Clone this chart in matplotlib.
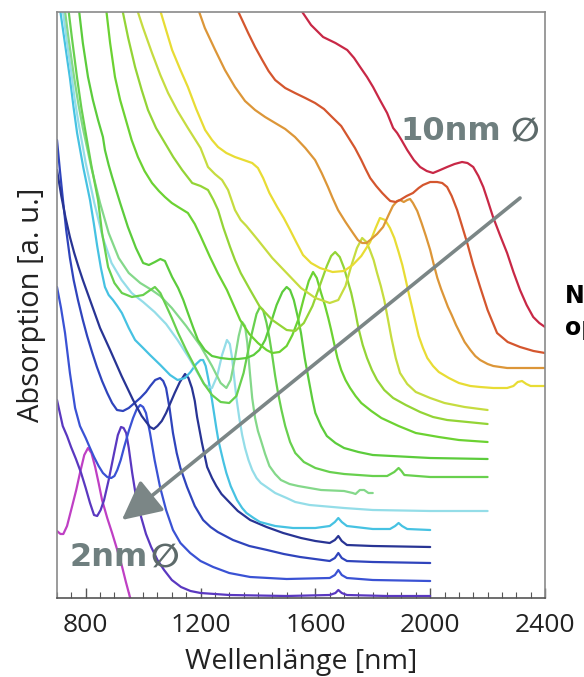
import matplotlib
matplotlib.use("Agg")
import matplotlib.pyplot as plt
from matplotlib.ticker import MultipleLocator

# ---------------- data (wavelength in nm, absorption in a.u.) ----------------
wl_c1 = [700, 712, 722, 735, 752, 767, 780, 795, 808, 820, 833, 845, 857, 875, 892, 910, 927, 940, 954, 990]
ab_c1 = [67, 64, 64, 72, 91, 108, 125, 143, 150, 145, 131, 115, 98, 80, 65, 48, 31, 16, 1, -25]

wl_c2 = [700, 720, 735, 749, 766, 784, 800, 815, 829, 840, 852, 864, 880, 899, 912, 923, 932, 941, 950, 962, 976, 993, 1010, 1028, 1050, 1073, 1100, 1132, 1165, 1200, 1300, 1500, 1650, 1670, 1680, 1692, 1710, 1850, 2000]
ab_c2 = [198, 172, 162, 151, 139, 125, 110, 95, 83, 82, 88, 98, 118, 145, 163, 171, 170, 165, 150, 125, 100, 81, 64, 51, 38, 28, 18, 11, 7, 5, 3, 2, 3, 5, 8, 5, 3, 2, 2]

wl_c3 = [700, 714, 728, 745, 763, 780, 800, 815, 829, 845, 860, 875, 889, 900, 910, 922, 934, 950, 965, 978, 990, 1000, 1010, 1024, 1040, 1059, 1080, 1104, 1130, 1164, 1200, 1244, 1300, 1373, 1500, 1650, 1668, 1680, 1692, 1710, 1800, 2000]
ab_c3 = [311, 290, 265, 225, 190, 172, 160, 150, 141, 132, 125, 121, 120, 122, 128, 138, 151, 167, 180, 189, 193, 191, 185, 165, 138, 111, 88, 68, 55, 45, 37, 31, 25, 21, 19, 20, 23, 28, 23, 20, 18, 17]

wl_c4 = [700, 710, 720, 732, 745, 758, 773, 790, 805, 822, 839, 857, 875, 892, 909, 930, 950, 970, 990, 1010, 1025, 1042, 1059, 1070, 1080, 1092, 1104, 1117, 1130, 1153, 1180, 1209, 1235, 1260, 1313, 1370, 1432, 1490, 1547, 1650, 1668, 1680, 1692, 1710, 1800, 2000]
ab_c4 = [458, 428, 400, 368, 340, 318, 298, 278, 262, 246, 231, 217, 205, 195, 188, 187, 190, 195, 200, 206, 212, 218, 220, 217, 210, 190, 165, 145, 130, 111, 92, 78, 71, 66, 58, 52, 48, 44, 41, 37, 40, 45, 40, 37, 36, 35]

wl_c5 = [700, 715, 730, 745, 760, 775, 790, 815, 850, 885, 925, 965, 995, 1024, 1037, 1050, 1065, 1080, 1095, 1110, 1128, 1146, 1158, 1170, 1180, 1188, 1205, 1223, 1240, 1255, 1273, 1293, 1330, 1373, 1430, 1488, 1550, 1600, 1650, 1668, 1680, 1692, 1710, 1800, 2000]
ab_c5 = [428, 402, 380, 361, 345, 331, 318, 298, 270, 248, 222, 198, 182, 171, 169, 172, 177, 185, 195, 205, 216, 224, 220, 210, 197, 181, 155, 131, 120, 112, 104, 98, 87, 78, 71, 65, 60, 57, 55, 58, 62, 57, 53, 52, 51]

wl_c6 = [705, 725, 745, 758, 770, 792, 815, 828, 840, 853, 867, 880, 895, 910, 926, 950, 972, 1000, 1024, 1060, 1094, 1120, 1146, 1165, 1185, 1200, 1209, 1218, 1225, 1233, 1240, 1248, 1255, 1262, 1270, 1280, 1290, 1305, 1327, 1345, 1360, 1385, 1407, 1460, 1522, 1600, 1650, 1668, 1680, 1692, 1710, 1800, 1860, 1878, 1890, 1902, 1920, 2000]
ab_c6 = [600, 560, 520, 490, 465, 430, 398, 375, 352, 330, 311, 303, 298, 292, 285, 270, 258, 250, 243, 233, 223, 218, 220, 226, 234, 238, 238, 232, 222, 210, 198, 183, 170, 158, 148, 136, 125, 112, 98, 90, 85, 80, 76, 72, 70, 70, 72, 76, 80, 76, 72, 69, 69, 72, 75, 72, 69, 68]

wl_c7 = [715, 735, 750, 762, 775, 800, 830, 860, 890, 925, 960, 1000, 1040, 1080, 1120, 1160, 1190, 1215, 1240, 1258, 1275, 1292, 1302, 1310, 1318, 1326, 1335, 1345, 1355, 1367, 1380, 1395, 1410, 1435, 1460, 1500, 1530, 1580, 1620, 1700, 1800, 2000, 2200]
ab_c7 = [600, 555, 525, 498, 475, 435, 395, 360, 335, 318, 305, 296, 286, 274, 258, 240, 225, 213, 210, 222, 243, 258, 254, 240, 218, 198, 180, 163, 150, 138, 128, 120, 115, 110, 105, 100, 96, 93, 92, 90, 88, 87, 87]

wl_c8 = [722, 740, 760, 775, 790, 820, 850, 880, 915, 950, 990, 1030, 1060, 1100, 1150, 1200, 1240, 1270, 1290, 1305, 1320, 1333, 1345, 1355, 1363, 1372, 1380, 1390, 1400, 1410, 1425, 1440, 1460, 1480, 1510, 1540, 1620, 1700, 1730, 1740, 1755, 1770, 1785, 1800]
ab_c8 = [600, 560, 520, 493, 470, 430, 395, 365, 340, 325, 315, 308, 302, 290, 272, 252, 232, 215, 210, 218, 240, 262, 276, 272, 255, 225, 200, 180, 167, 158, 144, 132, 124, 118, 114, 112, 108, 107, 105, 104, 108, 108, 105, 105]

wl_c9 = [735, 752, 770, 785, 800, 820, 843, 857, 878, 900, 926, 961, 1000, 1020, 1041, 1060, 1076, 1100, 1122, 1150, 1181, 1210, 1240, 1270, 1300, 1325, 1350, 1375, 1395, 1407, 1418, 1430, 1440, 1450, 1460, 1470, 1482, 1495, 1512, 1530, 1560, 1600, 1650, 1700, 1800, 1850, 1875, 1890, 1900, 1910, 2000, 2200]
ab_c9 = [600, 560, 520, 490, 465, 432, 398, 365, 331, 315, 305, 301, 303, 307, 311, 305, 295, 280, 265, 248, 231, 215, 203, 196, 195, 202, 225, 260, 284, 291, 288, 275, 260, 242, 222, 205, 188, 172, 156, 145, 136, 130, 126, 124, 122, 122, 126, 130, 127, 123, 121, 121]

wl_c10 = [775, 790, 808, 825, 843, 860, 867, 880, 892, 920, 947, 975, 1000, 1020, 1041, 1060, 1076, 1090, 1101, 1122, 1140, 1156, 1175, 1191, 1215, 1240, 1270, 1300, 1330, 1360, 1385, 1405, 1425, 1445, 1465, 1485, 1500, 1512, 1525, 1538, 1550, 1563, 1577, 1590, 1600, 1620, 1640, 1670, 1700, 1750, 1800, 2000, 2200]
ab_c10 = [592, 555, 521, 498, 478, 461, 448, 433, 421, 395, 371, 350, 335, 333, 336, 339, 337, 328, 321, 310, 298, 285, 270, 258, 248, 242, 240, 239, 239, 240, 243, 248, 258, 275, 293, 306, 311, 308, 298, 282, 265, 240, 218, 198, 185, 172, 162, 155, 150, 146, 143, 140, 139]

wl_c11 = [870, 885, 902, 920, 937, 960, 982, 1005, 1031, 1055, 1076, 1100, 1122, 1156, 1180, 1200, 1233, 1260, 1292, 1315, 1338, 1370, 1400, 1430, 1450, 1475, 1500, 1520, 1540, 1560, 1577, 1592, 1605, 1620, 1633, 1645, 1655, 1665, 1677, 1690, 1705, 1721, 1740, 1760, 1795, 1830, 1890, 1950, 2030, 2100, 2200]
ab_c11 = [592, 555, 521, 498, 481, 458, 441, 427, 415, 407, 401, 395, 391, 385, 374, 362, 341, 325, 308, 293, 278, 264, 255, 248, 245, 246, 252, 263, 278, 300, 317, 326, 320, 305, 293, 280, 268, 255, 240, 228, 218, 210, 202, 195, 187, 180, 172, 165, 161, 158, 156]

wl_c12 = [925, 948, 972, 995, 1017, 1045, 1076, 1105, 1136, 1171, 1200, 1226, 1245, 1261, 1280, 1303, 1320, 1340, 1373, 1407, 1450, 1500, 1530, 1560, 1590, 1615, 1640, 1655, 1669, 1685, 1700, 1712, 1725, 1738, 1750, 1765, 1780, 1797, 1815, 1840, 1871, 1915, 1965, 2010, 2059, 2130, 2200]
ab_c12 = [592, 560, 531, 508, 488, 470, 455, 441, 428, 415, 412, 408, 398, 388, 370, 351, 338, 325, 308, 291, 278, 268, 267, 275, 292, 312, 332, 342, 346, 341, 330, 318, 305, 288, 270, 253, 240, 228, 218, 208, 200, 193, 186, 181, 178, 176, 174]

wl_c13 = [975, 1000, 1031, 1060, 1087, 1120, 1156, 1200, 1226, 1250, 1275, 1296, 1320, 1340, 1360, 1400, 1450, 1500, 1550, 1600, 1650, 1680, 1705, 1725, 1745, 1763, 1778, 1790, 1803, 1815, 1828, 1840, 1852, 1865, 1880, 1895, 1920, 1950, 2000, 2050, 2120, 2200]
ab_c13 = [592, 570, 545, 523, 505, 487, 470, 450, 431, 424, 418, 408, 388, 378, 372, 358, 340, 325, 310, 300, 295, 298, 312, 332, 350, 360, 356, 348, 338, 325, 312, 298, 280, 260, 240, 225, 214, 206, 200, 195, 191, 188]

wl_c14 = [1055, 1080, 1101, 1130, 1156, 1185, 1216, 1240, 1261, 1290, 1320, 1350, 1380, 1400, 1418, 1440, 1467, 1490, 1512, 1535, 1557, 1585, 1616, 1660, 1700, 1730, 1760, 1791, 1810, 1825, 1843, 1860, 1875, 1890, 1903, 1915, 1925, 1935, 1947, 1960, 1975, 1990, 2010, 2030, 2065, 2100, 2140, 2174, 2220, 2268, 2290, 2305, 2320, 2335, 2350, 2400]
ab_c14 = [592, 568, 548, 528, 511, 489, 468, 458, 451, 445, 441, 438, 435, 430, 420, 405, 391, 380, 368, 355, 343, 335, 330, 326, 327, 333, 342, 356, 370, 380, 378, 370, 360, 346, 333, 318, 305, 293, 278, 262, 250, 240, 232, 226, 220, 215, 212, 211, 210, 210, 212, 216, 217, 214, 212, 212]

wl_c15 = [1188, 1215, 1251, 1285, 1320, 1355, 1390, 1425, 1460, 1495, 1529, 1565, 1599, 1622, 1644, 1660, 1679, 1705, 1731, 1748, 1763, 1778, 1791, 1815, 1836, 1855, 1870, 1885, 1895, 1908, 1920, 1930, 1940, 1955, 1970, 1985, 2000, 2013, 2025, 2038, 2050, 2062, 2075, 2090, 2104, 2120, 2140, 2157, 2174, 2200, 2220, 2268, 2330, 2400]
ab_c15 = [592, 570, 548, 528, 511, 497, 488, 481, 475, 469, 461, 450, 438, 425, 411, 400, 388, 376, 365, 358, 355, 355, 358, 364, 371, 383, 392, 397, 398, 396, 398, 399, 395, 387, 375, 362, 348, 333, 320, 309, 300, 291, 283, 273, 265, 256, 248, 242, 238, 234, 232, 230, 230, 230]

wl_c16 = [1322, 1345, 1366, 1390, 1415, 1437, 1460, 1495, 1529, 1565, 1599, 1630, 1658, 1690, 1714, 1738, 1760, 1775, 1791, 1812, 1833, 1850, 1861, 1880, 1895, 1918, 1940, 1960, 1975, 2000, 2024, 2042, 2059, 2075, 2094, 2110, 2129, 2150, 2174, 2200, 2233, 2270, 2313, 2360, 2400]
ab_c16 = [592, 578, 565, 551, 538, 527, 518, 510, 505, 500, 495, 489, 481, 472, 461, 450, 438, 429, 420, 412, 405, 400, 397, 396, 398, 402, 405, 410, 413, 416, 416, 415, 411, 402, 388, 373, 355, 333, 311, 288, 265, 256, 251, 247, 245]

wl_c17 = [1545, 1585, 1627, 1670, 1711, 1735, 1756, 1780, 1801, 1825, 1850, 1871, 1885, 1900, 1920, 1943, 1965, 1988, 2010, 2035, 2059, 2085, 2111, 2130, 2150, 2168, 2185, 2200, 2219, 2243, 2268, 2290, 2313, 2336, 2359, 2380, 2400]
ab_c17 = [590, 573, 561, 555, 548, 540, 531, 521, 511, 498, 485, 470, 465, 458, 448, 438, 431, 427, 425, 428, 431, 434, 436, 435, 431, 422, 411, 398, 381, 363, 345, 326, 308, 293, 281, 275, 271]

curves = [
    (wl_c1, ab_c1, "#bf3fc4"),
    (wl_c2, ab_c2, "#5a38c0"),
    (wl_c3, ab_c3, "#3a52d4"),
    (wl_c4, ab_c4, "#2f44bc"),
    (wl_c5, ab_c5, "#283494"),
    (wl_c6, ab_c6, "#46c2e2"),
    (wl_c7, ab_c7, "#94dde8"),
    (wl_c8, ab_c8, "#84d88a"),
    (wl_c9, ab_c9, "#68d04e"),
    (wl_c10, ab_c10, "#5ccc3c"),
    (wl_c11, ab_c11, "#6cd232"),
    (wl_c12, ab_c12, "#94d436"),
    (wl_c13, ab_c13, "#c6dc40"),
    (wl_c14, ab_c14, "#e8dc34"),
    (wl_c15, ab_c15, "#dc9638"),
    (wl_c16, ab_c16, "#d4562e"),
    (wl_c17, ab_c17, "#c82846"),
]

xticks = [800, 1200, 1600, 2000, 2400]

# ---------------- figure ----------------
W, H = 584, 677
fig = plt.figure(figsize=(W / 100, H / 100), dpi=100)
ax = fig.add_axes([57 / W, 1 - 598 / H, (545 - 57) / W, (598 - 12) / H])

for wl, ab, col in curves:
    ax.plot(wl, ab, color=col, lw=1.6, solid_joinstyle="round", solid_capstyle="round")

ax.set_xlim(700, 2400)
ax.set_ylim(0, 586)
ax.set_xticks(xticks)
ax.xaxis.set_minor_locator(MultipleLocator(50))
ax.set_yticks([])
ax.tick_params(axis="x", which="major", direction="in", length=7, width=1, color="#555555",
               labelsize=19, pad=11)
ax.tick_params(axis="x", which="minor", direction="in", length=4, width=0.8, color="#555555")
for lab in ax.get_xticklabels():
    lab.set_fontfamily("Open Sans")
    lab.set_color("#222222")
for s in ax.spines.values():
    s.set_color("#8a8a8a")
    s.set_linewidth(1.2)
ax.spines["bottom"].set_color("#555555")

ax.set_xlabel("Wellenlänge [nm]", fontsize=20.5, family="Open Sans", color="#222222", labelpad=7)
ax.set_ylabel("Absorption [a. u.]", fontsize=21, family="Open Sans", color="#222222", labelpad=8)

# arrow from large to small particles
ax.annotate("", xy=(926, 78), xytext=(2313, 400),
            arrowprops=dict(arrowstyle="-|>,head_length=1.1,head_width=0.55", color="#7b8686",
                            lw=2.6, mutation_scale=22, shrinkA=0, shrinkB=0))

gray = "#6f7f7f"
fig.text(400 / W, 1 - 131 / H, "10nm", fontsize=23, fontweight="bold", color=gray,
         family="DejaVu Sans", ha="left", va="center")
fig.text(510 / W, 1 - 131 / H, "∅", fontsize=24, fontweight="bold", color="#5d6a6a",
         family="DejaVu Sans", ha="left", va="center")
fig.text(70 / W, 1 - 557 / H, "2nm", fontsize=23, fontweight="bold", color=gray,
         family="DejaVu Sans", ha="left", va="center")
fig.text(150 / W, 1 - 557 / H, "∅", fontsize=24, fontweight="bold", color="#5d6a6a",
         family="DejaVu Sans", ha="left", va="center")

# partially visible text at the right edge (cut off as in the original)
fig.text(565 / W, 1 - 296 / H, "N", fontsize=17, fontweight="bold", color="black",
         family="DejaVu Sans", ha="left", va="center")
fig.text(565 / W, 1 - 328 / H, "op", fontsize=17, fontweight="bold", color="black",
         family="DejaVu Sans", ha="left", va="center")

fig.savefig("out.png", dpi=100)
